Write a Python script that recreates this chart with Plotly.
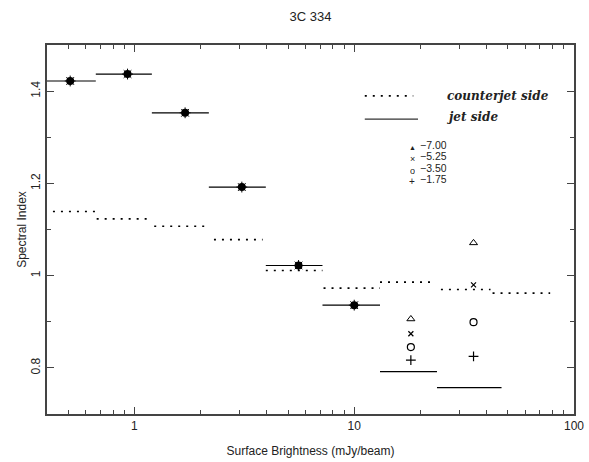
import plotly.graph_objects as go
import math

# ---- data ----
jet_lo = [0.36, 0.667, 1.2, 2.18, 3.96, 7.17, 13.1, 23.8]
jet_hi = [0.667, 1.2, 2.18, 3.96, 7.17, 13.1, 23.8, 46.8]
jet_y = [1.422, 1.437, 1.353, 1.192, 1.022, 0.936, 0.792, 0.757]

pt_x = [0.51, 0.93, 1.70, 3.08, 5.58, 10.0]
pt_y = [1.422, 1.437, 1.353, 1.192, 1.022, 0.936]

cj_lo = [0.36, 0.673, 1.23, 2.30, 3.96, 7.25, 13.1, 24.8, 42.6]
cj_hi = [0.673, 1.21, 2.18, 3.83, 7.17, 13.1, 22.5, 41.7, 77.9]
cj_y = [1.139, 1.123, 1.107, 1.078, 1.011, 0.973, 0.986, 0.970, 0.962]

mark_x = [18.1, 34.9]
tri_y = [0.906, 1.071]
cross_y = [0.874, 0.980]
circ_y = [0.845, 0.899]
plus_y = [0.817, 0.825]

legend_vals = ["\u22127.00", "\u22125.25", "\u22123.50", "\u22121.75"]
legend_syms = ["\u25b2", "\u00d7", "o", "+"]

FONT = "Liberation Sans, Arial, sans-serif"
INK = "#222222"


def segs(lo, hi, y):
    xs, ys = [], []
    for a, b, v in zip(lo, hi, y):
        xs += [a, b, None]
        ys += [v, v, None]
    return xs, ys


fig = go.Figure()

jx, jy = segs(jet_lo, jet_hi, jet_y)
fig.add_trace(go.Scatter(x=jx, y=jy, mode="lines",
                         line=dict(color="black", width=1.2), hoverinfo="skip"))
cx, cy = segs(cj_lo, cj_hi, cj_y)
fig.add_trace(go.Scatter(x=cx, y=cy, mode="lines",
                         line=dict(color="black", width=1.6, dash="2px,6px"),
                         hoverinfo="skip"))

fig.add_trace(go.Scatter(x=pt_x, y=pt_y, mode="markers",
                         marker=dict(symbol="circle", size=8, color="black")))
fig.add_trace(go.Scatter(x=pt_x, y=pt_y, mode="markers",
                         marker=dict(symbol="asterisk-open", size=9, color="black",
                                     line=dict(color="black", width=1))))

fig.add_trace(go.Scatter(x=mark_x, y=tri_y, mode="markers",
                         marker=dict(symbol="triangle-up-open", size=7, color="black",
                                     line=dict(color="black", width=1))))
fig.add_trace(go.Scatter(x=mark_x, y=cross_y, mode="markers",
                         marker=dict(symbol="x-thin-open", size=5, color="black",
                                     line=dict(color="black", width=1.2))))
fig.add_trace(go.Scatter(x=mark_x, y=circ_y, mode="markers",
                         marker=dict(symbol="circle-open", size=7, color="black",
                                     line=dict(color="black", width=1.2))))
fig.add_trace(go.Scatter(x=mark_x, y=plus_y, mode="markers",
                         marker=dict(symbol="cross-thin-open", size=7, color="black",
                                     line=dict(color="black", width=1.2))))

minor_x = [d * 10 ** e for e in (-1, 0, 1) for d in range(2, 10)]
minor_x = [v for v in minor_x if 0.4 <= v <= 100]

axis_common = dict(showgrid=False, zeroline=False, showline=True,
                   linecolor="#444", linewidth=1.5, mirror="ticks",
                   ticks="inside", ticklen=7, tickcolor="#444", tickwidth=1,
                   automargin=False,
                   tickfont=dict(family=FONT, size=12, color=INK))

fig.update_xaxes(type="log", range=[math.log10(0.4), 2],
                 tickvals=[1, 10, 100], ticktext=["1", "10", "100"],
                 minor=dict(tickvals=minor_x, ticks="inside", ticklen=4,
                            tickcolor="#444"),
                 title=dict(text="Surface Brightness (mJy/beam)",
                            font=dict(family=FONT, size=12, color=INK),
                            standoff=14),
                 **axis_common)
fig.update_yaxes(range=[0.7, 1.5], tickvals=[0.8, 1.0, 1.2, 1.4],
                 ticktext=["0.8", "1", "1.2", "1.4"], tickangle=-90,
                 minor=dict(tickvals=[0.9, 1.1, 1.3], ticks="inside",
                            ticklen=4, tickcolor="#444"),
                 title=dict(text="Spectral Index",
                            font=dict(family=FONT, size=12, color=INK),
                            standoff=0),
                 **axis_common)

shapes = [
    dict(type="line", xref="paper", yref="paper", x0=0.603, x1=0.695,
         y0=0.862, y1=0.862, line=dict(color="black", width=1.6, dash="2px,6px")),
    dict(type="line", xref="paper", yref="paper", x0=0.603, x1=0.704,
         y0=0.799, y1=0.799, line=dict(color="#333", width=1.2)),
]

annotations = [
    dict(text="<b><i>counterjet side</i></b>", xref="paper", yref="paper",
         x=0.755, y=0.862, xanchor="left", yanchor="middle", showarrow=False,
         font=dict(family="DejaVu Serif, serif", size=12, color=INK)),
    dict(text="<b><i>jet side</i></b>", xref="paper", yref="paper",
         x=0.755, y=0.806, xanchor="left", yanchor="middle", showarrow=False,
         font=dict(family="DejaVu Serif, serif", size=12, color=INK)),
]
txt_y = [0.729, 0.6985, 0.668, 0.6375]
sym_y = [t - 0.007 for t in txt_y]
sym_sizes = [7, 9, 9, 10]
for s, v, sy, ty, fs in zip(legend_syms, legend_vals, sym_y, txt_y, sym_sizes):
    annotations.append(dict(text=s, xref="paper", yref="paper", x=0.693, y=sy,
                            xanchor="center", yanchor="middle", showarrow=False,
                            height=9, font=dict(family=FONT, size=fs, color=INK)))
    annotations.append(dict(text=v, xref="paper", yref="paper", x=0.704, y=ty,
                            xanchor="left", yanchor="middle", showarrow=False,
                            height=10, font=dict(family=FONT, size=10.5, color=INK)))

fig.update_layout(
    width=589, height=462,
    margin=dict(l=47, r=15, t=45, b=48),
    paper_bgcolor="white", plot_bgcolor="white",
    showlegend=False,
    title=dict(text="3C 334", x=0.527, xanchor="center", y=0.975,
               font=dict(family=FONT, size=13, color=INK)),
    shapes=shapes, annotations=annotations,
)

fig.write_html("out.html", config={"displayModeBar": False},
               post_script="document.body.style.margin='0';"
                           "document.body.style.overflow='hidden';")
